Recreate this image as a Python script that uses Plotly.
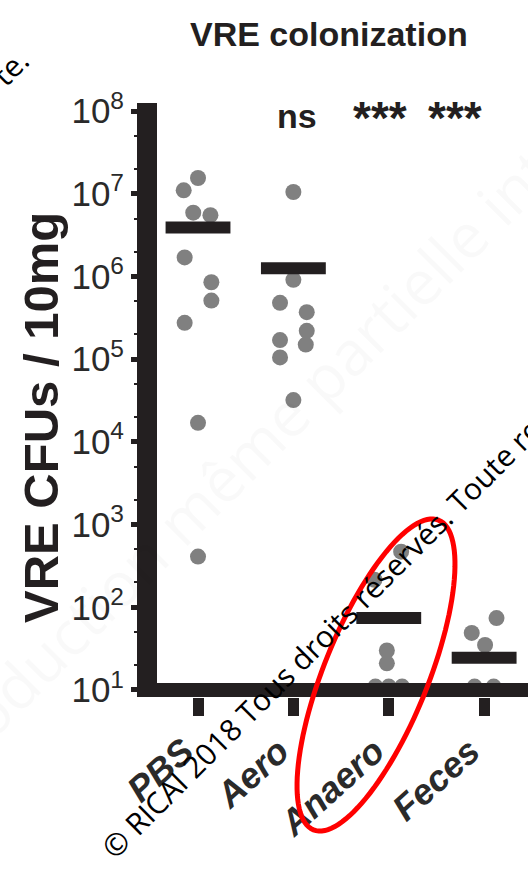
import numpy as np
import plotly.graph_objects as go

# ---------------- data ----------------
categories = ["PBS", "Aero", "Anaero", "Feces"]

pbs_values = [1.55e7, 1.1e7, 5.9e6, 5.5e6, 1.7e6, 8.5e5, 5.1e5, 2.75e5, 1.7e4, 410]
pbs_jitter = [0.0, -0.15, -0.05, 0.13, -0.14, 0.14, 0.14, -0.14, 0.0, 0.0]

aero_values = [1.05e7, 9.1e5, 4.8e5, 3.7e5, 2.2e5, 1.7e5, 1.5e5, 1.05e5, 3.2e4]
aero_jitter = [0.0, 0.0, -0.14, 0.14, 0.14, -0.14, 0.13, -0.14, 0.0]

anaero_values = [470, 215, 30, 21, 11, 11, 11]
anaero_jitter = [0.13, -0.15, -0.02, -0.02, -0.14, 0.0, 0.14]

feces_values = [74, 49, 35, 11, 11]
feces_jitter = [0.13, -0.13, 0.01, -0.1, 0.1]

group_means = [3.9e6, 1.26e6, 74, 24.5]
significance = ["", "ns", "***", "***"]
y_tick_values = [1e1, 1e2, 1e3, 1e4, 1e5, 1e6, 1e7, 1e8]
y_tick_labels = ["10<sup>%d</sup>" % e for e in range(1, 9)]

# ---------------- layout geometry (pixels) ----------------
W, H = 528, 871
L, R, T, B = 157, 0, 103, 174
PW, PH = W - L - R, H - T - B


def px(x):
    return (x - L) / PW


def py(y):
    return (H - B - y) / PH


SANS = "Liberation Sans, Arial, sans-serif"
WM = "Open Sans, sans-serif"
INK = "#231f20"
DOT = "#808080"

fig = go.Figure()

groups = [(pbs_values, pbs_jitter), (aero_values, aero_jitter),
          (anaero_values, anaero_jitter), (feces_values, feces_jitter)]
for i, (vals, jit) in enumerate(groups):
    fig.add_trace(go.Scatter(
        x=[i + j for j in jit], y=vals, mode="markers",
        marker=dict(color=DOT, size=16, line=dict(width=0)),
        showlegend=False, hoverinfo="skip", cliponaxis=False))

mx, my = [], []
for i, m in enumerate(group_means):
    mx += [i - 0.34, i + 0.34, None]
    my += [m, m, None]
fig.add_trace(go.Scatter(x=mx, y=my, mode="lines",
                         line=dict(color=INK, width=12),
                         showlegend=False, hoverinfo="skip"))

annotations = []
# title
annotations.append(dict(text="<b>VRE colonization</b>", x=px(329), y=py(34),
                        xref="paper", yref="paper", showarrow=False,
                        font=dict(family=SANS, size=34, color=INK),
                        xanchor="center", yanchor="middle"))
# significance labels
sig_x = [None, 297, 380, 455]
sig_y = [None, 116, 118, 118]
sig_size = [None, 34, 46, 46]
for i, s in enumerate(significance):
    if s:
        annotations.append(dict(text="<b>%s</b>" % s, x=px(sig_x[i]), y=py(sig_y[i]),
                                xref="paper", yref="paper", showarrow=False,
                                font=dict(family=SANS, size=sig_size[i], color=INK),
                                xanchor="center", yanchor="middle"))
# y axis title
annotations.append(dict(text="<b>VRE CFUs / 10mg</b>", x=px(41), y=py(418),
                        xref="paper", yref="paper", showarrow=False, textangle=-90,
                        font=dict(family=SANS, size=49, color=INK),
                        xanchor="center", yanchor="middle"))
# faint background watermark
annotations.append(dict(text="Reproduction même partielle interdite", x=px(270), y=py(430),
                        xref="paper", yref="paper", showarrow=False, textangle=-45,
                        font=dict(family=WM, size=62, color="rgba(0,0,0,0.025)"),
                        xanchor="center", yanchor="middle"))
# black watermark
annotations.append(dict(text="© RICAI 2018 Tous droits réservés. Toute reproduction",
                        x=px(90), y=py(870), xref="paper", yref="paper", showarrow=False,
                        textangle=-45,
                        font=dict(family=WM, size=30, color="black"),
                        xanchor="left", yanchor="bottom"))
annotations.append(dict(text="te.", x=px(40), y=py(38), xref="paper", yref="paper",
                        showarrow=False, textangle=-45,
                        font=dict(family=WM, size=30, color="black"),
                        xanchor="right", yanchor="top"))

# red ellipse
cx, cy, a, b, ang = 376, 675, 167, 52, np.deg2rad(22)
u = np.array([np.sin(ang), -np.cos(ang)])
v = np.array([np.cos(ang), np.sin(ang)])
t = np.linspace(0, 2 * np.pi, 121)
ex = cx + a * np.cos(t) * u[0] + b * np.sin(t) * v[0]
ey = cy + a * np.cos(t) * u[1] + b * np.sin(t) * v[1]
path = "M " + " L ".join("%.4f,%.4f" % (px(xx), py(yy)) for xx, yy in zip(ex, ey)) + " Z"

shapes = [
    # x axis line at the 10^1 level
    dict(type="line", xref="paper", yref="paper", x0=px(137), x1=1.0,
         y0=py(690), y1=py(690), line=dict(color=INK, width=14), layer="above"),
    dict(type="path", xref="paper", yref="paper", path=path,
         line=dict(color="#ff0000", width=5), layer="above"),
]

fig.update_layout(
    width=W, height=H, margin=dict(l=L, r=R, t=T, b=B, pad=0, autoexpand=False),
    paper_bgcolor="white", plot_bgcolor="white",
    annotations=annotations, shapes=shapes, showlegend=False,
    xaxis=dict(range=[-0.43, 3.46], tickvals=list(range(len(categories))),
               ticktext=categories, showline=False, showgrid=False, zeroline=False,
               automargin=False,
               ticks="outside", ticklen=18, tickwidth=11, tickcolor=INK,
               tickangle=-42, ticklabelshift=-14,
               tickfont=dict(family=SANS, size=36, color="#2a2a2a",
                             weight="bold", style="italic")),
    yaxis=dict(type="log", range=[0.915, 8.097], tickvals=y_tick_values,
               ticktext=y_tick_labels, showline=True, linewidth=20, linecolor=INK,
               automargin=False,
               showgrid=False, zeroline=False, ticks="outside", ticklen=6,
               tickwidth=5, tickcolor=INK,
               minor=dict(ticks="outside", ticklen=3, tickwidth=2, tickcolor=INK,
                          dtick="D2", showgrid=False),
               tickfont=dict(family=SANS, size=35, color="#2a2a2a")),
)

fig.write_html("out.html", config={"displayModeBar": False},
               post_script="document.body.style.margin='0px';"
                           "document.body.style.overflow='hidden';")
